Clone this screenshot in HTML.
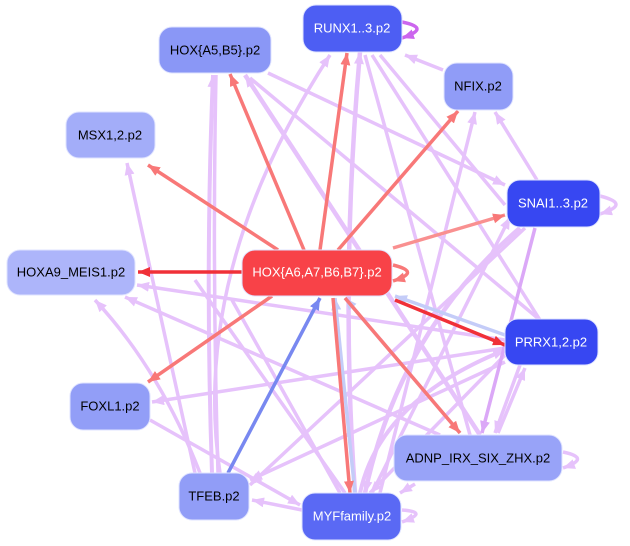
<!DOCTYPE html>
<html><head><meta charset="utf-8"><style>
html,body{margin:0;padding:0;background:#fff;}
svg{display:block;}
text{font-family:"Liberation Sans",sans-serif;font-size:13px;text-anchor:middle;dominant-baseline:central;}
</style></head><body>
<svg width="630" height="546" viewBox="0 0 630 546" xmlns="http://www.w3.org/2000/svg">
<defs>
<marker id="mL" markerUnits="userSpaceOnUse" markerWidth="14" markerHeight="12" refX="12" refY="5" orient="auto"><path d="M0,0 L12,5 L0,10 z" fill="#e6c2fb"/></marker>
<marker id="mD" markerUnits="userSpaceOnUse" markerWidth="14" markerHeight="12" refX="12" refY="5" orient="auto"><path d="M0,0 L12,5 L0,10 z" fill="#dba8f7"/></marker>
<marker id="mR" markerUnits="userSpaceOnUse" markerWidth="14" markerHeight="12" refX="12" refY="5" orient="auto"><path d="M0,0 L12,5 L0,10 z" fill="#f87878"/></marker>
<marker id="mRR" markerUnits="userSpaceOnUse" markerWidth="14" markerHeight="12" refX="12" refY="5" orient="auto"><path d="M0,0 L12,5 L0,10 z" fill="#f03038"/></marker>
<marker id="mB" markerUnits="userSpaceOnUse" markerWidth="14" markerHeight="12" refX="12" refY="5" orient="auto"><path d="M0,0 L12,5 L0,10 z" fill="#7888f0"/></marker>
<marker id="mLB" markerUnits="userSpaceOnUse" markerWidth="14" markerHeight="12" refX="12" refY="5" orient="auto"><path d="M0,0 L12,5 L0,10 z" fill="#c4ccf8"/></marker>
<marker id="mP" markerUnits="userSpaceOnUse" markerWidth="14" markerHeight="12" refX="12" refY="5" orient="auto"><path d="M0,0 L12,5 L0,10 z" fill="#cc66ee"/></marker>
</defs>
<g fill="none" stroke-width="3.5" stroke="#e6c2fb">
<line x1="443" y1="70" x2="405" y2="55" marker-end="url(#mL)"/>
<line x1="537" y1="180" x2="495" y2="112" marker-end="url(#mL)"/>
<line x1="268" y1="73" x2="505" y2="185" marker-end="url(#mL)"/>
<line x1="480" y1="435" x2="245" y2="75" marker-end="url(#mL)" stroke-width="4.5"/>
<line x1="540" y1="320" x2="250" y2="78"/>
<path d="M212,473 Q205,270 213,75" marker-end="url(#mL)" stroke-width="4"/>
<path d="M218,473 Q212,270 216,75"/>
<path d="M220,473 Q190,270 330,55" marker-end="url(#mL)"/>
<path d="M355,493 Q340,280 360,52" marker-end="url(#mL)" stroke-width="4.5"/>
<line x1="365" y1="55" x2="470" y2="435"/>
<line x1="372" y1="55" x2="540" y2="320"/>
<line x1="380" y1="55" x2="505" y2="205"/>
<line x1="505" y1="340" x2="137" y2="285" marker-end="url(#mL)"/>
<line x1="440" y1="435" x2="125" y2="297" marker-end="url(#mL)"/>
<path d="M200,473 Q160,370 95,300" marker-end="url(#mL)"/>
<line x1="195" y1="473" x2="127" y2="163" marker-end="url(#mL)"/>
<line x1="505" y1="348" x2="152" y2="402" marker-end="url(#mL)"/>
<line x1="150" y1="420" x2="300" y2="505" marker-end="url(#mL)"/>
<line x1="302" y1="510" x2="252" y2="500" marker-end="url(#mL)"/>
<line x1="415" y1="484" x2="400" y2="493" marker-end="url(#mL)"/>
<path d="M520,228 Q400,330 365,493" marker-end="url(#mL)" stroke-width="4.5"/>
<line x1="525" y1="228" x2="250" y2="485" marker-end="url(#mL)"/>
<line x1="505" y1="355" x2="370" y2="493" marker-end="url(#mL)"/>
<line x1="505" y1="362" x2="250" y2="480" marker-end="url(#mL)"/>
<line x1="520" y1="365" x2="495" y2="433" marker-end="url(#mL)"/>
<line x1="498" y1="433" x2="525" y2="368" marker-end="url(#mL)"/>
<line x1="380" y1="493" x2="475" y2="112" marker-end="url(#mL)"/>
<line x1="372" y1="493" x2="510" y2="217" marker-end="url(#mL)"/>
<line x1="345" y1="493" x2="195" y2="280"/>
<line x1="340" y1="493" x2="232" y2="300"/>
<path d="M360,493 Q380,400 505,350" marker-end="url(#mL)" stroke-width="4"/>
<path d="M402,510 Q430,512 402,522" marker-end="url(#mL)"/>
<path d="M563,452 Q592,458 563,468" marker-end="url(#mL)"/>
<path d="M600,196 Q632,204 600,214" marker-end="url(#mL)"/>
</g>
<g fill="none" stroke-width="3.5">
<line x1="535" y1="228" x2="482" y2="433" stroke="#dba8f7" marker-end="url(#mD)"/>
<path d="M402,22 Q432,28 402,38" stroke="#cc66ee" marker-end="url(#mP)"/>
<line x1="355" y1="493" x2="335" y2="298" stroke="#c4ccf8" marker-end="url(#mLB)"/>
<line x1="460" y1="433" x2="345" y2="298" stroke="#c4ccf8" marker-end="url(#mLB)"/>
<line x1="505" y1="335" x2="395" y2="296" stroke="#c4ccf8" marker-end="url(#mLB)"/>
<line x1="304" y1="250" x2="230" y2="74" stroke="#f87878" marker-end="url(#mR)"/>
<line x1="320" y1="250" x2="347" y2="53" stroke="#f87878" marker-end="url(#mR)"/>
<line x1="338" y1="250" x2="458" y2="111" stroke="#f87878" marker-end="url(#mR)"/>
<line x1="278" y1="250" x2="148" y2="165" stroke="#f87878" marker-end="url(#mR)"/>
<line x1="393" y1="248" x2="505" y2="215" stroke="#f99090" marker-end="url(#mR)"/>
<line x1="242" y1="272" x2="138" y2="272" stroke="#f03038" marker-end="url(#mRR)"/>
<line x1="272" y1="296" x2="148" y2="382" stroke="#f87878" marker-end="url(#mR)"/>
<line x1="395" y1="300" x2="505" y2="345" stroke="#f03038" marker-end="url(#mRR)"/>
<line x1="345" y1="298" x2="460" y2="433" stroke="#f87878" marker-end="url(#mR)"/>
<line x1="333" y1="298" x2="350" y2="493" stroke="#f87878" marker-end="url(#mR)"/>
<path d="M393,265 Q422,272 393,281" stroke="#f87878" marker-end="url(#mR)"/>
<line x1="228" y1="473" x2="320" y2="298" stroke="#7888f0" marker-end="url(#mB)"/>
</g>
<g stroke="#dfe3ff" stroke-width="1">
<rect x="303" y="5" width="99" height="47" rx="13" fill="#4d5ef3"/>
<rect x="159" y="27" width="112" height="46" rx="13" fill="#8a97f6"/>
<rect x="444" y="63" width="69" height="47" rx="13" fill="#909cf7"/>
<rect x="66" y="112" width="89" height="46" rx="13" fill="#a3adf9"/>
<rect x="507" y="180" width="93" height="47" rx="13" fill="#3747f2"/>
<rect x="7" y="250" width="128" height="45" rx="13" fill="#adb5fa"/>
<rect x="242" y="250" width="150" height="46" rx="13" fill="#f84248"/>
<rect x="505" y="319" width="93" height="46" rx="13" fill="#3747f2"/>
<rect x="70" y="383" width="80" height="47" rx="13" fill="#929ef7"/>
<rect x="394" y="435" width="168" height="46" rx="13" fill="#98a3f8"/>
<rect x="179" y="473" width="70" height="47" rx="13" fill="#919df7"/>
<rect x="302" y="493" width="99" height="47" rx="13" fill="#5a69f4"/>
</g>
<g>
<text x="352" y="28" fill="#fff">RUNX1..3.p2</text>
<text x="215" y="50" fill="#000">HOX{A5,B5}.p2</text>
<text x="478" y="86" fill="#000">NFIX.p2</text>
<text x="110" y="135" fill="#000">MSX1,2.p2</text>
<text x="553" y="203" fill="#fff">SNAI1..3.p2</text>
<text x="71" y="272" fill="#000">HOXA9_MEIS1.p2</text>
<text x="317" y="272" fill="#fff">HOX{A6,A7,B6,B7}.p2</text>
<text x="551" y="342" fill="#fff">PRRX1,2.p2</text>
<text x="110" y="406" fill="#000">FOXL1.p2</text>
<text x="478" y="458" fill="#000">ADNP_IRX_SIX_ZHX.p2</text>
<text x="214" y="496" fill="#000">TFEB.p2</text>
<text x="352" y="516" fill="#fff">MYFfamily.p2</text>
</g>
</svg>
</body></html>
